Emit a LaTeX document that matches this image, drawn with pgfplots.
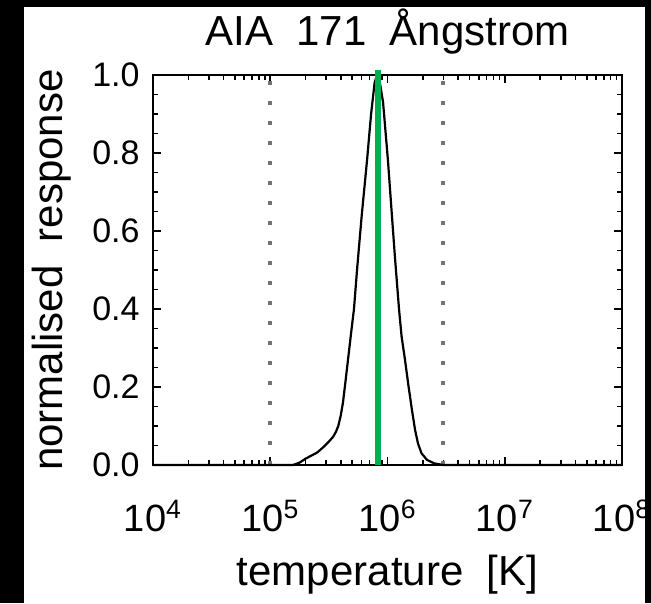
\documentclass[border=0pt]{standalone}
\usepackage{pgfplots}
\pgfplotsset{compat=1.18}
\usepackage{fontspec}
\setmainfont{Liberation Sans}

\definecolor{peakgreen}{RGB}{0,176,80}

\pgfplotstableread{
T          resp
1e4        0
1.563e5    0
1.778e5    0.006
1.995e5    0.016
2.239e5    0.024
2.512e5    0.032
2.818e5    0.045
3.162e5    0.060
3.428e5    0.072
3.631e5    0.085
3.802e5    0.100
3.981e5    0.125
4.169e5    0.160
4.365e5    0.210
4.603e5    0.270
4.898e5    0.340
5.176e5    0.400
5.495e5    0.500
6.026e5    0.640
6.683e5    0.780
7.244e5    0.900
7.762e5    0.980
8.128e5    1.000
8.610e5    0.980
9.162e5    0.930
1.009e6    0.780
1.084e6    0.650
1.159e6    0.530
1.253e6    0.400
1.318e6    0.330
1.409e6    0.270
1.514e6    0.200
1.618e6    0.140
1.718e6    0.090
1.820e6    0.055
1.950e6    0.030
2.173e6    0.013
2.512e6    0.004
2.972e6    0
1e8        0
}\response

\begin{document}
\begin{tikzpicture}
\useasboundingbox (0,0) rectangle (325.5pt,301.5pt);
% screenshot frame
\fill[black] (0,0) rectangle (325.5pt,301.5pt);
\fill[white] (12pt,0) rectangle (324pt,298pt);

\begin{semilogxaxis}[
    at={(76.5pt,69pt)},
    scale only axis,
    width=234.5pt, height=195pt,
    xmin=1e4, xmax=1e8,
    ymin=0, ymax=1.0,
    clip=false,
    axis line style={line width=1.2pt},
    tick align=inside,
    major tick length=4pt,
    minor tick length=2.5pt,
    tick style={line width=0.8pt, black},
    xtick={1e4,1e5,1e6,1e7,1e8},
    xticklabels={10\textsuperscript{4},10\textsuperscript{5},10\textsuperscript{6},10\textsuperscript{7},10\textsuperscript{8}},
    ytick={0,0.2,0.4,0.6,0.8,1.0},
    minor y tick num=3,
    /pgf/number format/assume math mode=true,
    yticklabel style={/pgf/number format/fixed, /pgf/number format/fixed zerofill, /pgf/number format/precision=1},
    yticklabel style={font=\fontsize{17}{20}\selectfont, anchor=east, inner sep=0pt, xshift=-6.5pt},
    xticklabel style={font=\fontsize{19}{22}\selectfont, anchor=base, inner sep=0pt, yshift=-33pt},
    title={AIA\ \ 171\ \ Ångstrom},
    title style={at={(axis description cs:0.5,1.0436)}, anchor=base, font=\fontsize{21}{24}\selectfont},
    xlabel={temperature\ \ [K]},
    xlabel style={at={(axis description cs:0.5,-0.3077)}, anchor=base, font=\fontsize{21}{24}\selectfont},
    ylabel={normalised\ \ response},
    every axis y label/.style={at={(axis description cs:-0.192,0.5)}, rotate=90, anchor=base, font=\fontsize{21}{24}\selectfont},
]
\addplot[black!55, line width=2pt, dash pattern=on 2pt off 8pt] coordinates {(1e5,0) (1e5,1.0)};
\addplot[black!55, line width=2pt, dash pattern=on 2pt off 8pt] coordinates {(2.95e6,0) (2.95e6,1.0)};
\addplot[black, line width=1.1pt] table[x=T, y=resp] {\response};
\addplot[peakgreen, line width=3pt] coordinates {(8.3e5,0) (8.3e5,1.013)};
\end{semilogxaxis}

\fill[black] (322.5pt,0) rectangle (325.5pt,301.5pt);
\end{tikzpicture}
\end{document}
